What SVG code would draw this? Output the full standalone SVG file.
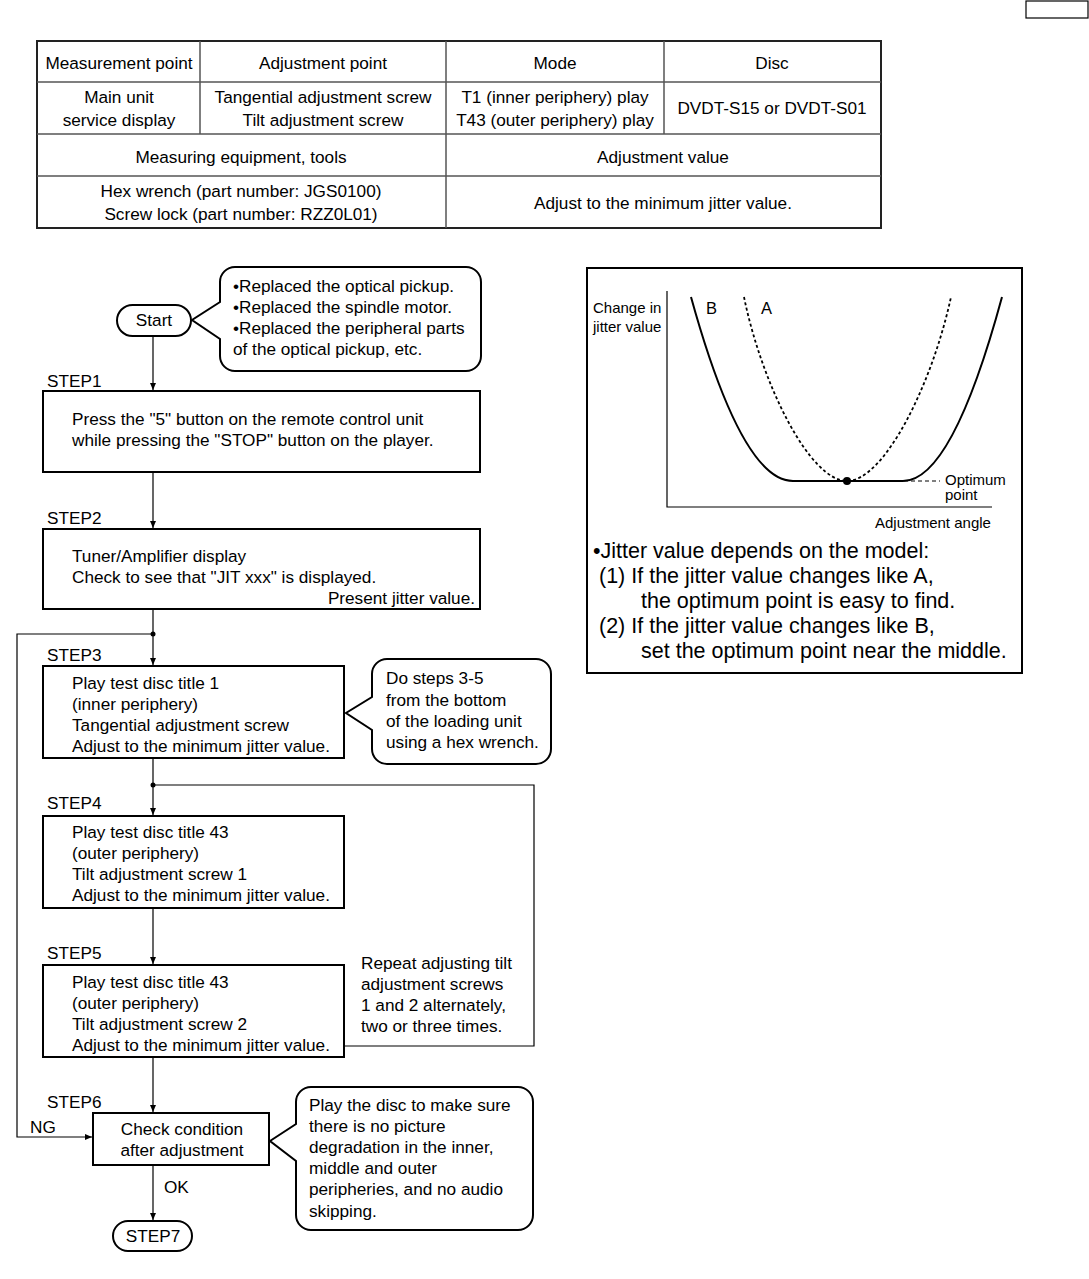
<svg xmlns="http://www.w3.org/2000/svg" width="1089" height="1279" viewBox="0 0 1089 1279">
<style>
text{font-family:"Liberation Sans",Arial,sans-serif;fill:#000}
.t17{font-size:17.2px}
.t16{font-size:16.5px}
.t15{font-size:15px}
.t20{font-size:21.5px}
.mid{text-anchor:middle}
.box{fill:#fff;stroke:#000;stroke-width:2}
.grid{stroke:#555;stroke-width:1.5;fill:none}
.con{stroke:#000;stroke-width:1.2;fill:none}
</style>
<defs>
<marker id="arr" markerWidth="8" markerHeight="8" refX="7" refY="4" orient="auto" markerUnits="userSpaceOnUse">
<path d="M0,1 L7,4 L0,7 Z" fill="#000"/>
</marker>
</defs>
<rect width="1089" height="1279" fill="#fff"/>
<rect x="1026" y="1" width="62" height="17" fill="none" stroke="#000" stroke-width="1.2"/>

<g id="table">
<rect x="37" y="41" width="844" height="187" fill="none" stroke="#222" stroke-width="2"/>
<line class="grid" x1="37" y1="82" x2="881" y2="82"/>
<line class="grid" x1="37" y1="134" x2="881" y2="134"/>
<line class="grid" x1="37" y1="176" x2="881" y2="176"/>
<line class="grid" x1="200" y1="41" x2="200" y2="134"/>
<line class="grid" x1="446" y1="41" x2="446" y2="228"/>
<line class="grid" x1="664" y1="41" x2="664" y2="134"/>
<text class="t17 mid" x="119" y="69">Measurement point</text>
<text class="t17 mid" x="323" y="69">Adjustment point</text>
<text class="t17 mid" x="555" y="69">Mode</text>
<text class="t17 mid" x="772" y="69">Disc</text>
<text class="t17 mid" x="119" y="103">Main unit</text>
<text class="t17 mid" x="119" y="126">service display</text>
<text class="t17 mid" x="323" y="103">Tangential adjustment screw</text>
<text class="t17 mid" x="323" y="126">Tilt adjustment screw</text>
<text class="t17 mid" x="555" y="103">T1 (inner periphery) play</text>
<text class="t17 mid" x="555" y="126">T43 (outer periphery) play</text>
<text class="t17 mid" x="772" y="114">DVDT-S15 or DVDT-S01</text>
<text class="t17 mid" x="241" y="163">Measuring equipment, tools</text>
<text class="t17 mid" x="663" y="163">Adjustment value</text>
<text class="t17 mid" x="241" y="197">Hex wrench (part number: JGS0100)</text>
<text class="t17 mid" x="241" y="220">Screw lock (part number: RZZ0L01)</text>
<text class="t17 mid" x="663" y="209">Adjust to the minimum jitter value.</text>
</g>

<g id="connectors">
<line class="con" x1="153" y1="336" x2="153" y2="390" marker-end="url(#arr)"/>
<line class="con" x1="153" y1="472" x2="153" y2="528" marker-end="url(#arr)"/>
<line class="con" x1="153" y1="609" x2="153" y2="665" marker-end="url(#arr)"/>
<polyline class="con" points="153,634 17,634 17,1137 92,1137" marker-end="url(#arr)"/>
<circle cx="153" cy="634" r="2.5" fill="#000"/>
<line class="con" x1="153" y1="758" x2="153" y2="815" marker-end="url(#arr)"/>
<polyline class="con" points="344,1046 534,1046 534,785 153,785"/>
<circle cx="153" cy="785" r="2.5" fill="#000"/>
<line class="con" x1="153" y1="908" x2="153" y2="964" marker-end="url(#arr)"/>
<line class="con" x1="153" y1="1057" x2="153" y2="1112" marker-end="url(#arr)"/>
<line class="con" x1="153" y1="1165" x2="153" y2="1220" marker-end="url(#arr)"/>
<text class="t17" x="30" y="1133">NG</text>
<text class="t17" x="164" y="1193">OK</text>
</g>

<g id="start">
<rect class="box" x="117" y="305" width="74" height="31" rx="15.5"/>
<text class="t17 mid" x="154" y="326">Start</text>
</g>

<g id="note-start">
<path class="box" d="M235,267 H466 A15,15 0 0 1 481,282 V356 A15,15 0 0 1 466,371 H235 A15,15 0 0 1 220,356 V339 L192,320 L220,302 V282 A15,15 0 0 1 235,267 Z"/>
<text class="t17" x="233" y="292">•Replaced the optical pickup.</text>
<text class="t17" x="233" y="313">•Replaced the spindle motor.</text>
<text class="t17" x="233" y="334">•Replaced the peripheral parts</text>
<text class="t17" x="233" y="355"> of the optical pickup, etc.</text>
</g>

<g id="step1">
<text class="t17" x="47" y="387">STEP1</text>
<rect class="box" x="43" y="391" width="437" height="81"/>
<text class="t17" x="72" y="425">Press the "5" button on the remote control unit</text>
<text class="t17" x="72" y="446">while pressing the "STOP" button on the player.</text>
</g>

<g id="step2">
<text class="t17" x="47" y="524">STEP2</text>
<rect class="box" x="43" y="529" width="437" height="80"/>
<text class="t17" x="72" y="562">Tuner/Amplifier display</text>
<text class="t17" x="72" y="583">Check to see that "JIT xxx" is displayed.</text>
<text class="t17" x="475" y="604" text-anchor="end">Present jitter value.</text>
</g>

<g id="step3">
<text class="t17" x="47" y="661">STEP3</text>
<rect class="box" x="43" y="666" width="301" height="92"/>
<text class="t17" x="72" y="689">Play test disc title 1</text>
<text class="t17" x="72" y="710">(inner periphery)</text>
<text class="t17" x="72" y="731">Tangential adjustment screw</text>
<text class="t17" x="72" y="752">Adjust to the minimum jitter value.</text>
</g>

<g id="note-step3">
<path class="box" d="M387,659 H536 A15,15 0 0 1 551,674 V749 A15,15 0 0 1 536,764 H387 A15,15 0 0 1 372,749 V730 L346,713 L372,697 V674 A15,15 0 0 1 387,659 Z"/>
<text class="t17" x="386" y="684">Do steps 3-5</text>
<text class="t17" x="386" y="706">from the bottom</text>
<text class="t17" x="386" y="727">of the loading unit</text>
<text class="t17" x="386" y="748">using a hex wrench.</text>
</g>

<g id="step4">
<text class="t17" x="47" y="809">STEP4</text>
<rect class="box" x="43" y="816" width="301" height="92"/>
<text class="t17" x="72" y="838">Play test disc title 43</text>
<text class="t17" x="72" y="859">(outer periphery)</text>
<text class="t17" x="72" y="880">Tilt adjustment screw 1</text>
<text class="t17" x="72" y="901">Adjust to the minimum jitter value.</text>
</g>

<g id="step5">
<text class="t17" x="47" y="959">STEP5</text>
<rect class="box" x="43" y="965" width="301" height="92"/>
<text class="t17" x="72" y="988">Play test disc title 43</text>
<text class="t17" x="72" y="1009">(outer periphery)</text>
<text class="t17" x="72" y="1030">Tilt adjustment screw 2</text>
<text class="t17" x="72" y="1051">Adjust to the minimum jitter value.</text>
</g>

<g id="note-repeat">
<text class="t17" x="361" y="969">Repeat adjusting tilt</text>
<text class="t17" x="361" y="990">adjustment screws</text>
<text class="t17" x="361" y="1011">1 and 2 alternately,</text>
<text class="t17" x="361" y="1032">two or three times.</text>
</g>

<g id="step6">
<text class="t17" x="47" y="1108">STEP6</text>
<rect class="box" x="93" y="1113" width="176" height="52"/>
<text class="t17 mid" x="182" y="1135">Check condition</text>
<text class="t17 mid" x="182" y="1156">after adjustment</text>
</g>

<g id="note-step6">
<path class="box" d="M311,1087 H518 A15,15 0 0 1 533,1102 V1215 A15,15 0 0 1 518,1230 H311 A15,15 0 0 1 296,1215 V1161 L270,1141 L296,1124 V1102 A15,15 0 0 1 311,1087 Z"/>
<text class="t17" x="309" y="1111">Play the disc to make sure</text>
<text class="t17" x="309" y="1132">there is no picture</text>
<text class="t17" x="309" y="1153">degradation in the inner,</text>
<text class="t17" x="309" y="1174">middle and outer</text>
<text class="t17" x="309" y="1195">peripheries, and no audio</text>
<text class="t17" x="309" y="1217">skipping.</text>
</g>

<g id="step7">
<rect class="box" x="113" y="1221" width="79" height="30" rx="15"/>
<text class="t17 mid" x="153" y="1242">STEP7</text>
</g>

<g id="graph">
<rect x="587" y="268" width="435" height="405" fill="none" stroke="#000" stroke-width="2"/>
<polyline points="667,291 667,507 992,507" fill="none" stroke="#000" stroke-width="1.2"/>
<text class="t15" x="593" y="313">Change in</text>
<text class="t15" x="593" y="332">jitter value</text>
<text class="t16" x="706" y="314">B</text>
<text class="t16" x="761" y="314">A</text>
<path d="M691,297 Q742,481 793,481 H903 Q952,481 1002,297" fill="none" stroke="#000" stroke-width="2"/>
<path d="M744,297 C762,385 810,481 847,481 C884,481 932,385 951,297" fill="none" stroke="#000" stroke-width="1.8" stroke-dasharray="3,2.5"/>
<circle cx="847" cy="481" r="4" fill="#000"/>
<line x1="904" y1="481" x2="940" y2="481" stroke="#000" stroke-width="1" stroke-dasharray="4,3"/>
<text class="t15" x="945" y="485">Optimum</text>
<text class="t15" x="945" y="500">point</text>
<text class="t15" x="875" y="528">Adjustment angle</text>
<text class="t20" x="593" y="558">•Jitter value depends on the model:</text>
<text class="t20" x="599" y="583">(1) If the jitter value changes like A,</text>
<text class="t20" x="641" y="608">the optimum point is easy to find.</text>
<text class="t20" x="599" y="633">(2) If the jitter value changes like B,</text>
<text class="t20" x="641" y="658">set the optimum point near the middle.</text>
</g>
</svg>
